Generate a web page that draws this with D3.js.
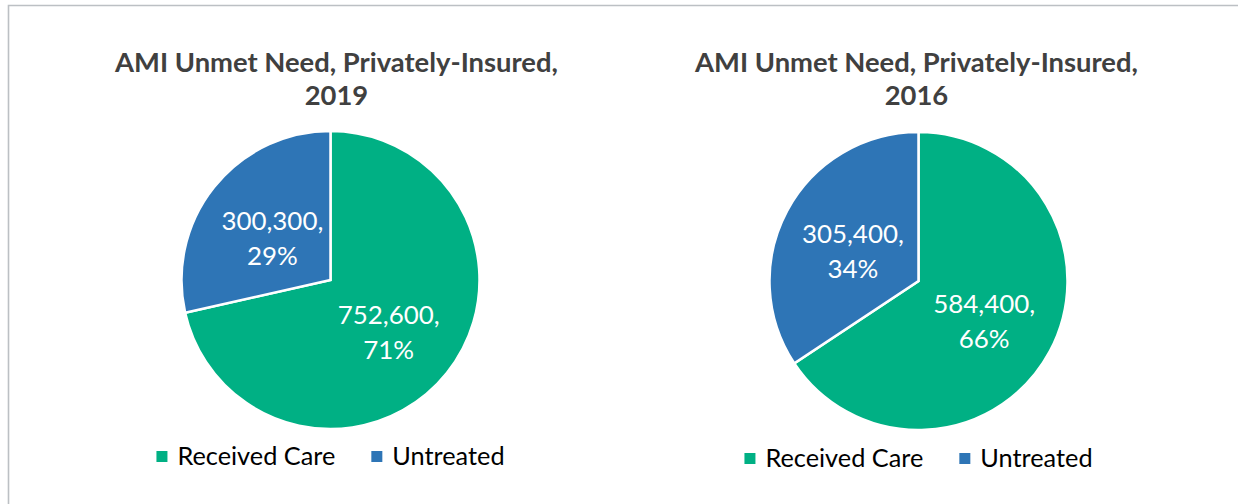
<!DOCTYPE html>
<html><head><meta charset="utf-8">
<script src="https://cdn.jsdelivr.net/npm/d3@7"></script>
<style>html,body{margin:0;padding:0;background:#fff;}svg{display:block;}</style>
</head><body>
<svg id="chart" width="1238" height="504"></svg>
<script>
const categories = ["Received Care", "Untreated"];
const years = ["2019", "2016"];
const values2019 = [752600, 300300];
const values2016 = [584400, 305400];
const titlePrefix = "AMI Unmet Need, Privately-Insured,";

const colors = ["#00B084", "#2E75B6"];
const FONT = "Lato, 'Open Sans', sans-serif";

const svg = d3.select("#chart");
svg.append("rect").attr("width",1238).attr("height",504).attr("fill","#fff");
// frame (top and left edges visible)
svg.append("path").attr("d","M8.5,600 L8.5,5.5 L1240,5.5")
  .attr("fill","none").attr("stroke","#bcc0c4").attr("stroke-width",1.6);

function fitSize(text, weight, target){
  const t = svg.append("text").attr("font-family",FONT).attr("font-weight",weight)
    .attr("font-size",100).text(text);
  const w = t.node().getComputedTextLength();
  t.remove();
  return 100*target/w;
}
const titleSize = fitSize(titlePrefix, "bold", 443);
const labelSize = fitSize("300,300,", "normal", 102);
const legendSize = fitSize("Received Care", "normal", 158);

const panels = [
  {year: years[0], values: values2019, cx: 330.5, cy: 280, tx: 336.5, ly: 456.5},
  {year: years[1], values: values2016, cx: 918.5, cy: 281, tx: 916.5, ly: 458.5}
];
const R = 149;
const fmt = d3.format(",");
const pct = d3.format(".0%");
const pie = d3.pie().sort(null).value(d => d.v);
const arc = d3.arc().innerRadius(0).outerRadius(R);

panels.forEach(p => {
  const data = categories.map((c,i) => ({c, v: p.values[i], i}));
  const total = d3.sum(data, d => d.v);
  const g = svg.append("g").attr("transform",`translate(${p.cx},${p.cy})`);
  const arcs = pie(data);
  g.selectAll("path").data(arcs).join("path")
    .attr("d", arc).attr("fill", d => colors[d.data.i])
    .attr("stroke","#fff").attr("stroke-width",2.5).attr("stroke-linejoin","miter");
  arcs.forEach(a => {
    const [x,y] = arc.centroid(a);
    const t = g.append("text").attr("font-family",FONT).attr("font-size",labelSize)
      .attr("fill","#fff").attr("text-anchor","middle");
    t.append("tspan").attr("x",x).attr("y",y-3).text(fmt(a.data.v)+",");
    t.append("tspan").attr("x",x).attr("y",y+32).text(pct(a.data.v/total));
  });
  // title
  const tt = svg.append("text").attr("font-family",FONT).attr("font-weight","bold")
    .attr("font-size",titleSize).attr("fill","#404040").attr("text-anchor","middle");
  tt.append("tspan").attr("x",p.tx).attr("y",72).text(titlePrefix);
  tt.append("tspan").attr("x",p.tx).attr("y",105).text(p.year);
  // legend
  const lg = svg.append("g");
  const items = categories.map((c,i) => {
    const t = lg.append("text").attr("font-family",FONT).attr("font-size",legendSize)
      .attr("fill","#000").text(c);
    return {t, w: t.node().getComputedTextLength(), i};
  });
  const sq = 11, gapSq = 10, gapItem = 36;
  const totalW = d3.sum(items, it => sq + gapSq + it.w) + gapItem*(items.length-1);
  let x = p.cx - totalW/2;
  items.forEach(it => {
    lg.append("rect").attr("x",x).attr("y",p.ly - sq/2).attr("width",sq).attr("height",sq)
      .attr("fill",colors[it.i]);
    it.t.attr("x", x + sq + gapSq).attr("y", p.ly + 8);
    x += sq + gapSq + it.w + gapItem;
  });
});
</script>
</body></html>
